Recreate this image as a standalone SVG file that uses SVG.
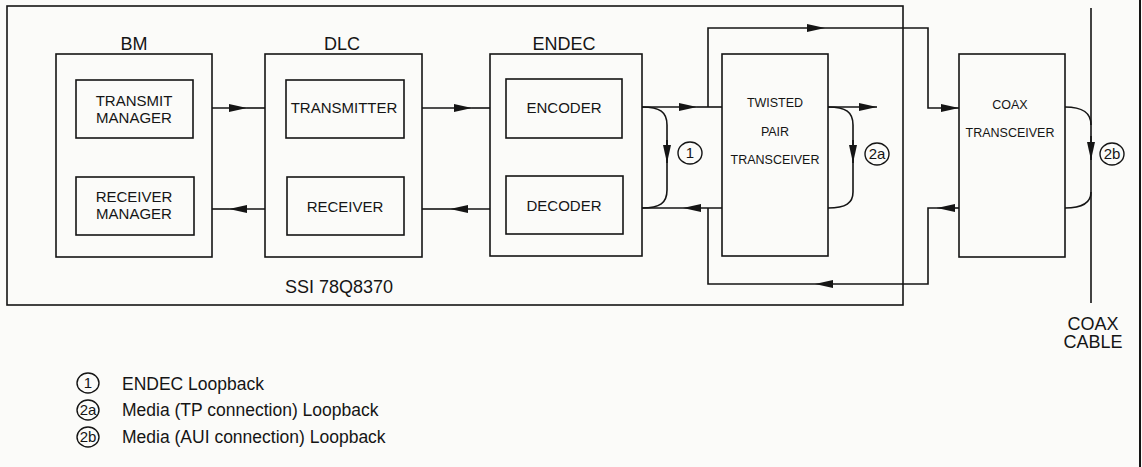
<svg xmlns="http://www.w3.org/2000/svg" width="1142" height="467" viewBox="0 0 1142 467">
<style>
.box{fill:none;stroke:#151515;stroke-width:1.6}
.ln{fill:none;stroke:#151515;stroke-width:1.6}
.t{font-family:"Liberation Sans",Arial,sans-serif;fill:#151515;text-anchor:middle}
.lbl{font-size:18px}
.in{font-size:15px}
.sm{font-size:12.5px}
.leg{font-family:"Liberation Sans",Arial,sans-serif;fill:#151515;font-size:17.5px}
.cir{fill:none;stroke:#151515;stroke-width:1.4}
.ct{font-family:"Liberation Sans",Arial,sans-serif;fill:#151515;font-size:15px;text-anchor:middle}
</style>
<defs>
<marker id="ah" markerUnits="userSpaceOnUse" markerWidth="19" markerHeight="10" refX="18" refY="4" orient="auto" viewBox="0 0 19 8">
<path d="M0,0 L18,4 L0,8 z" fill="#151515"/>
</marker>
</defs>
<rect width="1142" height="467" fill="#fbfbf9"/>
<line x1="1140" y1="0" x2="1140" y2="467" stroke="#151515" stroke-width="2"/>

<g id="ssi">
<rect class="box" x="7" y="6" width="896" height="299"/>
<text class="t lbl" x="339" y="293">SSI 78Q8370</text>
</g>

<g id="bm">
<rect class="box" x="56" y="54" width="156" height="203"/>
<text class="t lbl" x="134" y="50">BM</text>
<g id="transmit-manager">
<rect class="box" x="76" y="80" width="117" height="58"/>
<text class="t in" x="134" y="106">TRANSMIT</text>
<text class="t in" x="134" y="123">MANAGER</text>
</g>
<g id="receiver-manager">
<rect class="box" x="76" y="177" width="118" height="58"/>
<text class="t in" x="134" y="202">RECEIVER</text>
<text class="t in" x="134" y="219">MANAGER</text>
</g>
</g>

<g id="dlc">
<rect class="box" x="265" y="54" width="157" height="203"/>
<text class="t lbl" x="342" y="50">DLC</text>
<g id="transmitter">
<rect class="box" x="286" y="80" width="118" height="58"/>
<text class="t in" x="344" y="113">TRANSMITTER</text>
</g>
<g id="receiver">
<rect class="box" x="287" y="177" width="117" height="58"/>
<text class="t in" x="345" y="212">RECEIVER</text>
</g>
</g>

<g id="endec">
<rect class="box" x="490" y="54" width="152" height="202"/>
<text class="t lbl" x="564" y="50">ENDEC</text>
<g id="encoder">
<rect class="box" x="506" y="79" width="116" height="59"/>
<text class="t in" x="564" y="113">ENCODER</text>
</g>
<g id="decoder">
<rect class="box" x="506" y="176" width="117" height="58"/>
<text class="t in" x="564" y="211">DECODER</text>
</g>
</g>

<g id="tp-transceiver">
<rect class="box" x="722" y="54" width="106" height="202"/>
<text class="t sm" x="775" y="107">TWISTED</text>
<text class="t sm" x="775" y="136">PAIR</text>
<text class="t sm" x="775" y="164">TRANSCEIVER</text>
</g>

<g id="coax-transceiver">
<rect class="box" x="959" y="54" width="106" height="203"/>
<text class="t sm" x="1010" y="109">COAX</text>
<text class="t sm" x="1010" y="137">TRANSCEIVER</text>
</g>

<g id="coax-cable">
<line class="ln" x1="1091" y1="8" x2="1091" y2="303"/>
<text class="t lbl" x="1093" y="330">COAX</text>
<text class="t lbl" x="1093" y="348">CABLE</text>
</g>

<g id="connectors">
<path class="ln" d="M212,108 H247" marker-end="url(#ah)"/>
<path class="ln" d="M247,108 H265"/>
<path class="ln" d="M265,209 H229" marker-end="url(#ah)"/>
<path class="ln" d="M229,209 H212"/>
<path class="ln" d="M422,108 H472" marker-end="url(#ah)"/>
<path class="ln" d="M472,108 H490"/>
<path class="ln" d="M490,209 H450" marker-end="url(#ah)"/>
<path class="ln" d="M450,209 H422"/>
<path class="ln" d="M642,107 H697" marker-end="url(#ah)"/>
<path class="ln" d="M697,107 H722"/>
<path class="ln" d="M722,208 H683" marker-end="url(#ah)"/>
<path class="ln" d="M683,208 H642"/>
<path class="ln" d="M708,107 V28 H825" marker-end="url(#ah)"/>
<path class="ln" d="M825,28 H928 V108 H959" marker-end="url(#ah)"/>
<path class="ln" d="M959,208 H937" marker-end="url(#ah)"/>
<path class="ln" d="M937,208 H928 V284 H815" marker-end="url(#ah)"/>
<path class="ln" d="M815,284 H708 V208"/>
<path class="ln" d="M642,107 C660,107 667,112 667,125 V190 C667,203 660,208 642,208"/>
<path class="ln" d="M667,140 V163" marker-end="url(#ah)"/>
<path class="ln" d="M828,107 H877" marker-end="url(#ah)"/>
<path class="ln" d="M828,107 C846,107 853,112 853,125 V192 C853,203 846,208 828,208"/>
<path class="ln" d="M853,140 V163" marker-end="url(#ah)"/>
<path class="ln" d="M1065,107 C1082,107 1091,112 1091,125"/>
<path class="ln" d="M1065,208 C1082,208 1091,203 1091,192"/>
<path class="ln" d="M1091,136 V160" marker-end="url(#ah)"/>
</g>

<g id="loop-labels">
<ellipse class="cir" cx="690" cy="153" rx="12" ry="11"/>
<text class="ct" x="690" y="158">1</text>
<ellipse class="cir" cx="877" cy="154" rx="12" ry="11"/>
<text class="ct" x="877" y="159">2a</text>
<ellipse class="cir" cx="1112" cy="154" rx="12" ry="11"/>
<text class="ct" x="1112" y="159">2b</text>
</g>

<g id="legend">
<ellipse class="cir" cx="88" cy="383" rx="11" ry="10"/>
<text class="ct" x="88" y="388">1</text>
<text class="leg" x="122" y="390">ENDEC Loopback</text>
<ellipse class="cir" cx="88" cy="410" rx="11" ry="10"/>
<text class="ct" x="88" y="415">2a</text>
<text class="leg" x="122" y="416">Media (TP connection) Loopback</text>
<ellipse class="cir" cx="88" cy="437" rx="11" ry="10"/>
<text class="ct" x="88" y="442">2b</text>
<text class="leg" x="122" y="443">Media (AUI connection) Loopback</text>
</g>
</svg>
